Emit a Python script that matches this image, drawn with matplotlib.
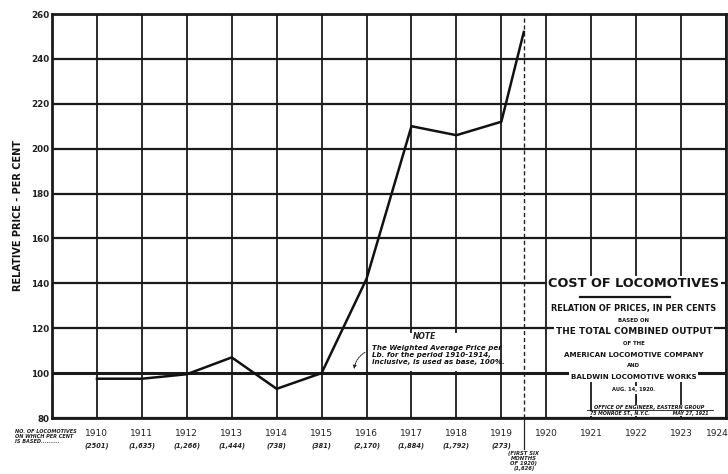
import matplotlib.pyplot as plt
from matplotlib.patches import Rectangle

# relative price, per cent (1910-1914 weighted average = 100)
years = [1910, 1911, 1912, 1913, 1914, 1915, 1916, 1917, 1918, 1919, 1919.5]
prices = [97.5, 97.5, 99.5, 107, 93, 100, 142, 210, 206, 212, 252]
tick_years = list(range(1910, 1925))
counts = ['(2501)', '(1,635)', '(1,266)', '(1,444)', '(738)', '(381)',
          '(2,170)', '(1,884)', '(1,792)', '(273)']
y_ticks = list(range(80, 261, 20))


def ptoy(py):
    # pixel row of the reference -> value on the price axis
    return 80 + (418 - py) / 2.244


fig = plt.figure(figsize=(7.28, 4.74), dpi=100, facecolor='white')
ax = fig.add_axes([52 / 728, 56 / 474, 674 / 728, 404 / 474])
ax.set_xlim(1909, 1924)
ax.set_ylim(80, 260)

# heavy grid: verticals below, white masks, then horizontals
for x in tick_years:
    ax.axvline(x, color='#1a1a1a', lw=1.3, zorder=1)
ax.add_patch(Rectangle((1920.7, ptoy(381)), 3.1, ptoy(279) - ptoy(381),
                       facecolor='white', edgecolor='none', zorder=1.5))
ax.add_patch(Rectangle((1916.1, ptoy(371)), 2.8, ptoy(333) - ptoy(371),
                       facecolor='white', edgecolor='none', zorder=1.5))
for y in y_ticks:
    ax.axhline(y, color='#1a1a1a', lw=2.2 if y == 100 else 1.6, zorder=2)

for s in ax.spines.values():
    s.set_linewidth(2)
    s.set_color('#1a1a1a')

ax.plot(years, prices, color='#111111', lw=1.8, zorder=3)

# dashed line for first six months of 1920
ax.plot([1919.5, 1919.5], [80, 260], color='#222222', lw=1.0,
        ls=(0, (3, 2)), zorder=2)
ax.plot([1919.5, 1919.5], [80, 66], color='#222222', lw=0.9,
        clip_on=False)

ax.set_xticks([])
ax.set_yticks(y_ticks)
ax.set_yticklabels([str(v) for v in y_ticks], fontsize=6.3, fontweight='bold',
                   color='#222222')
ax.tick_params(axis='y', length=0, pad=2)

for x in tick_years:
    ax.text(x if x < 1924 else 1924.05, 73.3, str(x),
            ha='center' if x < 1924 else 'right', va='center', fontsize=6.5,
            color='#222222', family='DejaVu Sans Condensed')
for x, c in zip(tick_years, counts):
    ax.text(x, 67.8, c, ha='center', va='center', fontsize=4.8,
            style='italic', fontweight='bold', color='#222222')

ax.text(1909 - 0.82, 71.8, 'NO. OF LOCOMOTIVES\nON WHICH PER CENT\nIS BASED..........',
        ha='left', va='center', fontsize=3.6, fontweight='bold',
        style='italic', color='#222222', linespacing=1.1, clip_on=False)
ax.text(1919.5, 65.5, '(FIRST SIX\nMONTHS\nOF 1920)\n(1,626)', ha='center',
        va='top', fontsize=3.8, fontweight='bold', style='italic',
        color='#222222', linespacing=1.05)

fig.text(18 / 728, 0.545, 'RELATIVE PRICE - PER CENT', rotation=90,
         ha='center', va='center', fontsize=7, fontweight='bold',
         color='#111111')

# note
ax.text(1917.28, ptoy(337), 'NOTE', ha='center', va='center', fontsize=5.5,
        fontweight='bold', style='italic', color='#222222', zorder=4)
ax.text(1916.12, ptoy(355), 'The Weighted Average Price per\nLb. for the period 1910-1914,\n'
        'inclusive, is used as base, 100%.', ha='left', va='center',
        fontsize=5.1, fontweight='bold', style='italic', color='#111111',
        linespacing=1.2, zorder=4)
ax.annotate('', xy=(1915.72, 100.6), xytext=(1916.02, ptoy(351)),
            arrowprops=dict(arrowstyle='-|>', color='#222222', lw=0.7,
                            ls=(0, (1.5, 1)), mutation_scale=5,
                            connectionstyle='arc3,rad=0.3'), zorder=4)

# title block
wb = dict(facecolor='white', edgecolor='none', pad=1.2)
title_lines = [
    ('COST OF LOCOMOTIVES', 284, 9.3),
    ('RELATION OF PRICES, IN PER CENTS', 309, 5.9),
    ('BASED ON', 321, 3.9),
    ('THE TOTAL COMBINED OUTPUT', 332, 6.4),
    ('OF THE', 344, 3.9),
    ('AMERICAN LOCOMOTIVE COMPANY', 355, 5.1),
    ('AND', 366, 3.9),
    ('BALDWIN LOCOMOTIVE WORKS', 377, 5.1),
    ('AUG. 14, 1920.', 390, 3.7),
]
for txt, py, fs in title_lines:
    ax.text(1921.95, ptoy(py), txt, ha='center', va='center', fontsize=fs,
            fontweight='bold', color='#151515', bbox=wb, zorder=5,
            family='DejaVu Sans Condensed')
ax.plot([1920.75, 1922.75], [ptoy(297), ptoy(297)], color='#151515', lw=1.6,
        zorder=6)
ax.plot([1922, 1922], [ptoy(396), ptoy(401)], color='#151515', lw=0.7,
        zorder=6)
ax.text(1922.3, ptoy(407.5), 'OFFICE OF ENGINEER, EASTERN GROUP',
        ha='center', va='center', fontsize=3.6, fontweight='bold',
        style='italic', color='#151515', bbox=dict(facecolor='white',
        edgecolor='none', pad=0.3), zorder=5)
ax.text(1922.3, ptoy(413.5), '75 MONROE ST., N.Y.C.              MAY 27, 1921',
        ha='center', va='center', fontsize=3.4, fontweight='bold',
        style='italic', color='#151515', bbox=dict(facecolor='white',
        edgecolor='none', pad=0.3), zorder=5)
ax.plot([1920.9, 1923.7], [ptoy(410.5), ptoy(410.5)], color='#151515',
        lw=0.6, zorder=6)

fig.savefig('out.png', dpi=100, facecolor='white')
